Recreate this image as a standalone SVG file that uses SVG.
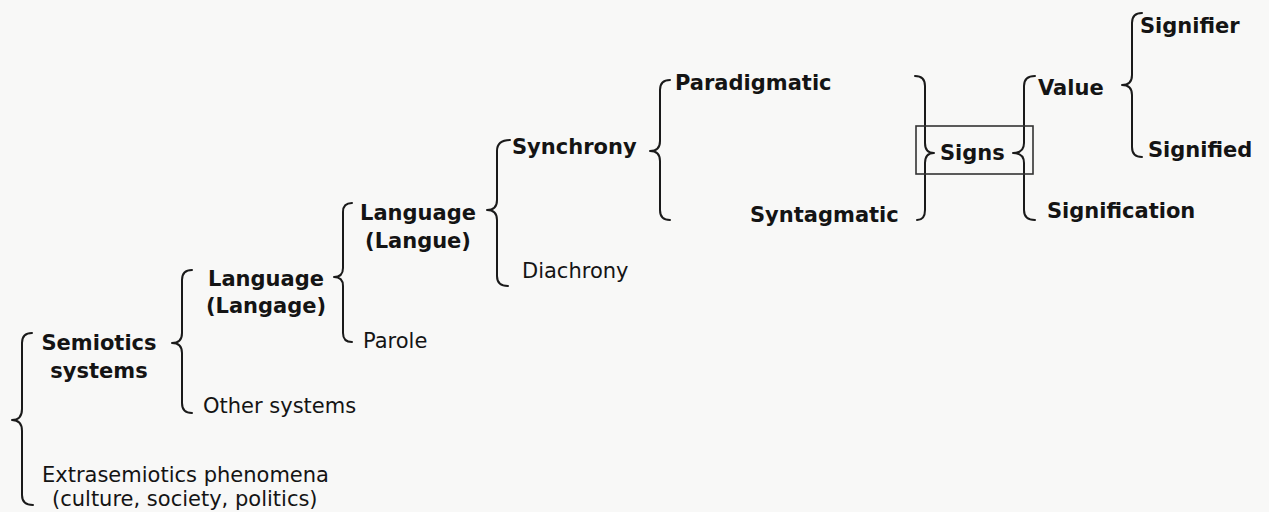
<svg xmlns="http://www.w3.org/2000/svg" width="1269" height="512" viewBox="0 0 1269 512">
  <style>
    .b { font-family: "DejaVu Sans", Verdana, sans-serif; font-weight: bold; font-size: 21px; fill: #141414; }
    .n { font-family: "DejaVu Sans", Verdana, sans-serif; font-size: 21px; fill: #141414; }
    .m { text-anchor: middle; }
    .brace { fill: none; stroke: #1a1a1a; stroke-width: 2; stroke-linecap: round; stroke-linejoin: round; }
    .frame { fill: none; stroke: #333; stroke-width: 1.6; }
  </style>
  <rect width="1269" height="512" fill="#f8f8f7"/>

  <!-- braces linking each term to its subdivisions -->
  <g id="connectors">
    <!-- whole field: semiotic systems / extrasemiotic phenomena -->
    <path class="brace" d="M32 333 Q22 333 22 343 V409 Q22 420 12 420 Q22 420 22 431 V495 Q22 505 33 505"/>
    <!-- semiotic systems: language / other systems -->
    <path class="brace" d="M192 270 Q182 270 182 280 V333 Q182 343 172 343 Q182 343 182 353 V403 Q182 413 192 413"/>
    <!-- langage: langue / parole -->
    <path class="brace" d="M352 203 Q343 203 343 212 V268 Q343 277 334 277 Q343 277 343 286 V333 Q343 342 352 342"/>
    <!-- langue: synchrony / diachrony -->
    <path class="brace" d="M510 140 Q497 140 497 151 V200 Q497 210 487 210 Q497 210 497 220 V276 Q497 286 508 286"/>
    <!-- synchrony: paradigmatic / syntagmatic -->
    <path class="brace" d="M670 80 Q660 80 660 90 V141 Q660 151 650 151 Q660 151 660 161 V210 Q660 220 670 220"/>
    <!-- paradigmatic + syntagmatic converge on signs -->
    <path class="brace" d="M915 76 Q925 76 925 86 V143 Q925 153 934 153 Q925 153 925 163 V210 Q925 220 917 220"/>
    <!-- signs: value / signification -->
    <path class="brace" d="M1035 76 Q1024 76 1024 86 V143 Q1024 153 1013 153 Q1024 153 1024 163 V210 Q1024 220 1035 220"/>
    <!-- value: signifier / signified -->
    <path class="brace" d="M1142 13 Q1132 13 1132 23 V75 Q1132 85 1122 85 Q1132 85 1132 95 V147 Q1132 157 1142 157"/>
  </g>

  <g id="semiotics-systems">
    <text class="b m" x="99" y="350">Semiotics</text>
    <text class="b m" x="99" y="378">systems</text>
  </g>
  <g id="extrasemiotics">
    <text class="n" x="42" y="482">Extrasemiotics phenomena</text>
    <text class="n" x="52" y="506">(culture, society, politics)</text>
  </g>
  <g id="langage">
    <text class="b m" x="266" y="286">Language</text>
    <text class="b m" x="266" y="313">(Langage)</text>
  </g>
  <g id="other-systems">
    <text class="n" x="203" y="413">Other systems</text>
  </g>
  <g id="langue">
    <text class="b m" x="418" y="220">Language</text>
    <text class="b m" x="418" y="248">(Langue)</text>
  </g>
  <g id="parole">
    <text class="n" x="363" y="348">Parole</text>
  </g>
  <g id="synchrony">
    <text class="b" x="512" y="154">Synchrony</text>
  </g>
  <g id="diachrony">
    <text class="n" x="522" y="278">Diachrony</text>
  </g>
  <g id="paradigmatic">
    <text class="b" x="675" y="90">Paradigmatic</text>
  </g>
  <g id="syntagmatic">
    <text class="b" x="750" y="222">Syntagmatic</text>
  </g>
  <g id="signs">
    <rect class="frame" x="916" y="126" width="117" height="48"/>
    <text class="b" x="940" y="160">Signs</text>
  </g>
  <g id="value">
    <text class="b" x="1038" y="95">Value</text>
  </g>
  <g id="signification">
    <text class="b" x="1047" y="218">Signification</text>
  </g>
  <g id="signifier">
    <text class="b" x="1140" y="33">Signifier</text>
  </g>
  <g id="signified">
    <text class="b" x="1148" y="157">Signified</text>
  </g>
</svg>
